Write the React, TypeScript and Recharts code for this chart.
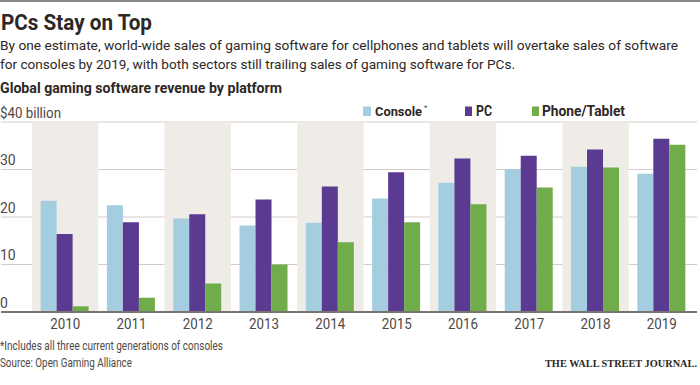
import React from 'react';
import { BarChart, Bar, XAxis, YAxis, CartesianGrid, ReferenceArea, ReferenceLine } from 'recharts';

const years = ['2010', '2011', '2012', '2013', '2014', '2015', '2016', '2017', '2018', '2019'];
const consoleVals = [23.4, 22.5, 19.7, 18.2, 18.8, 23.9, 27.2, 30.1, 30.6, 29.1];
const pcVals = [16.4, 18.9, 20.6, 23.7, 26.4, 29.4, 32.3, 32.9, 34.2, 36.5];
const mobileVals = [1.2, 3.0, 6.0, 10.0, 14.7, 18.9, 22.7, 26.2, 30.4, 35.2];
const yTicks = [0, 10, 20, 30, 40];
const shadedYears = ['2010', '2012', '2014', '2016', '2018'];

const data = years.map((y, i) => ({
  year: y,
  console: consoleVals[i],
  pc: pcVals[i],
  mobile: mobileVals[i],
}));

const FONT = 'Roboto, "Open Sans", sans-serif';
const TEXT = '#2d2826';
const GREY = '#4f4946';

const YTick = (props: any) => {
  const { y, payload } = props;
  const v = payload.value;
  const label = v === 40 ? '$40 billion' : String(v);
  return (
    <text
      x={0}
      y={y - 4.5}
      textAnchor="start"
      fontFamily={FONT}
      fontSize={14}
      fill={GREY}
      {...(v === 40 ? { textLength: 61, lengthAdjust: 'spacingAndGlyphs' } : {})}
    >
      {label}
    </text>
  );
};

const XTick = (props: any) => {
  const { x, y, payload } = props;
  return (
    <text
      x={x - 15}
      y={y + 9}
      textAnchor="start"
      fontFamily={FONT}
      fontSize={14}
      fill={GREY}
      textLength={30}
      lengthAdjust="spacingAndGlyphs"
    >
      {payload.value}
    </text>
  );
};

export default function App() {
  return (
    <div style={{ position: 'fixed', left: 0, top: 0, width: 700, height: 385, background: '#fff', overflow: 'hidden' }}>
      <div style={{ position: 'absolute', left: 0, top: 0 }}>
        <BarChart
          width={700}
          height={385}
          data={data}
          margin={{ top: 122, right: 3, left: 0, bottom: 0 }}
          barGap={0}
          barCategoryGap="13%"
        >
          {shadedYears.map((y) => (
            <ReferenceArea key={y} x1={y} x2={y} y1={0} y2={40} fill="#efebe6" fillOpacity={1} stroke="none" />
          ))}
          <CartesianGrid vertical={false} stroke="#d3ccc6" strokeWidth={1} />
          <XAxis
            dataKey="year"
            padding={{ left: 31, right: 2 }}
            axisLine={false}
            tickLine={false}
            height={73}
            tick={<XTick />}
            interval={0}
          />
          <YAxis
            width={1}
            domain={[0, 40]}
            ticks={yTicks}
            axisLine={false}
            tickLine={false}
            tick={<YTick />}
            interval={0}
          />
          <Bar dataKey="console" fill="#a5cde0" isAnimationActive={false} />
          <Bar dataKey="pc" fill="#5b3a92" isAnimationActive={false} />
          <Bar dataKey="mobile" fill="#70ac4a" isAnimationActive={false} />
          <ReferenceLine y={0} stroke="#7a7470" strokeWidth={2} />
        </BarChart>
      </div>
      <svg width={700} height={385} style={{ position: 'absolute', left: 0, top: 0, pointerEvents: 'none' }}>
        <rect x={0} y={0} width={700} height={2} fill="#8c8784" />
        <text x={1} y={30} fontFamily={FONT} fontWeight={700} fontSize={22} fill={TEXT} textLength={151} lengthAdjust="spacingAndGlyphs">
          PCs Stay on Top
        </text>
        <text x={0} y={50} fontFamily={FONT} fontSize={13.5} fill={TEXT} textLength={678} lengthAdjust="spacingAndGlyphs">
          By one estimate, world-wide sales of gaming software for cellphones and tablets will overtake sales of software
        </text>
        <text x={0} y={68.5} fontFamily={FONT} fontSize={13.5} fill={TEXT} textLength={515} lengthAdjust="spacingAndGlyphs">
          for consoles by 2019, with both sectors still trailing sales of gaming software for PCs.
        </text>
        <text x={0} y={93} fontFamily={FONT} fontWeight={700} fontSize={14} fill={TEXT} textLength={282} lengthAdjust="spacingAndGlyphs">
          Global gaming software revenue by platform
        </text>
        <rect x={363} y={106.5} width={8} height={9.5} fill="#a5cde0" />
        <text x={375} y={115.5} fontFamily={FONT} fontWeight={700} fontSize={13.5} fill={TEXT} textLength={47} lengthAdjust="spacingAndGlyphs">
          Console
        </text>
        <text x={424} y={110} fontFamily={FONT} fontSize={8} fill={GREY}>
          *
        </text>
        <rect x={465} y={106.5} width={7} height={9.5} fill="#5b3a92" />
        <text x={476} y={115.5} fontFamily={FONT} fontWeight={700} fontSize={14} fill={TEXT} textLength={16} lengthAdjust="spacingAndGlyphs">
          PC
        </text>
        <rect x={532} y={106.5} width={7} height={9.5} fill="#70ac4a" />
        <text x={542} y={115.5} fontFamily={FONT} fontWeight={700} fontSize={14} fill={TEXT} textLength={83} lengthAdjust="spacingAndGlyphs">
          Phone/Tablet
        </text>
        <text x={0} y={350} fontFamily={FONT} fontSize={12.5} fill={GREY} textLength={223} lengthAdjust="spacingAndGlyphs">
          *Includes all three current generations of consoles
        </text>
        <text x={0} y={367} fontFamily={FONT} fontSize={12.5} fill={GREY} textLength={132} lengthAdjust="spacingAndGlyphs">
          Source: Open Gaming Alliance
        </text>
        <text x={545} y={366.5} fontFamily='"Liberation Serif", "DejaVu Serif", serif' fontWeight={700} fontSize={10} fill={TEXT} textLength={152} lengthAdjust="spacingAndGlyphs">
          THE WALL STREET JOURNAL.
        </text>
      </svg>
    </div>
  );
}
